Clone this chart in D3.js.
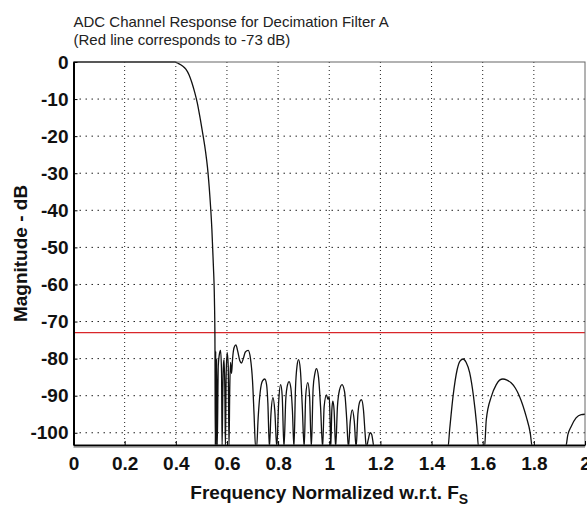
<!DOCTYPE html>
<html>
<head>
<meta charset="utf-8">
<script src="https://cdn.jsdelivr.net/npm/d3@7"></script>
<style>
  html, body { margin: 0; padding: 0; background: #fff; }
  svg { display: block; font-family: "Liberation Sans", Arial, sans-serif; }
  .tick text { font-weight: bold; font-size: 19px; fill: #111; }
</style>
</head>
<body>
<svg id="plot"></svg>
<script>
const width = 587;
const height = 506;
const margin = {top: 62, right: 2, bottom: 61, left: 73.5};

const titleLines = ['ADC Channel Response for Decimation Filter A', '(Red line corresponds to -73 dB)'];
const xTicks = [0, 0.2, 0.4, 0.6, 0.8, 1, 1.2, 1.4, 1.6, 1.8, 2];
const yTicks = [0, -10, -20, -30, -40, -50, -60, -70, -80, -90, -100];
const redLevel = -73;
const yFloor = -103.3;

// frequency (normalized to Fs) and magnitude (dB)
const freq = [
  0, 0.396, 0.41, 0.425, 0.44, 0.452, 0.463, 0.474, 0.484, 0.496, 0.507, 0.516, 0.524, 0.533, 0.541, 0.547, 0.551, 0.553,
  0.5545, 0.556, 0.5575, 0.5595, 0.562, 0.566, 0.570, 0.575, 0.579, 0.581, 0.584, 0.587, 0.589, 0.592, 0.594,
  0.597, 0.601, 0.605, 0.608, 0.611, 0.614, 0.618, 0.622, 0.628, 0.635, 0.642, 0.650, 0.657, 0.664, 0.672,
  0.683, 0.692, 0.700, 0.706, 0.712, 0.716, 0.722, 0.730, 0.739, 0.748, 0.755, 0.760, 0.766,
  0.772, 0.780, 0.787, 0.795,
  0.802, 0.810, 0.816, 0.823,
  0.830, 0.837, 0.843, 0.850, 0.856, 0.862,
  0.868, 0.874, 0.880, 0.887, 0.894, 0.902,
  0.908, 0.916, 0.923, 0.930,
  0.937, 0.944, 0.950, 0.958, 0.966, 0.974,
  0.980, 0.989, 0.995, 1.000, 1.003, 1.006,
  1.010, 1.014, 1.019, 1.025,
  1.032, 1.040, 1.050, 1.060, 1.068, 1.075,
  1.082, 1.090, 1.098, 1.105,
  1.112, 1.120, 1.126, 1.134, 1.140, 1.145,
  1.152, 1.160, 1.166, 1.170, 1.175,
  1.464, 1.471, 1.484, 1.500, 1.512, 1.523, 1.535, 1.549, 1.564, 1.577, 1.584,
  1.607, 1.614, 1.634, 1.653, 1.666, 1.679, 1.695, 1.712, 1.728, 1.744, 1.770, 1.786, 1.794,
  1.924, 1.933, 1.946, 1.965, 1.985, 2.0
];
const magDb = [
  0, 0, -0.4, -1, -2, -3.5, -5.6, -8.2, -11, -15.5, -20, -24, -28.5, -36, -45, -55, -64, -74.4,
  -104, -78, -104, -80, -104, -82, -79, -77.8, -84, -104, -88, -81, -80.3, -90, -104,
  -84, -78.3, -82, -104, -88, -81, -84, -80, -77, -76.3, -78, -80.5, -81.2, -80, -78.2,
  -77.8, -80, -86, -95, -104, -104, -96, -89, -86, -85.5, -87, -92, -104,
  -95, -90.5, -94, -104,
  -92, -87, -90, -104,
  -91, -87, -86.2, -88, -94, -104,
  -88, -82, -80.3, -83, -92, -104,
  -90, -86.5, -90, -104,
  -88, -84, -82.7, -85, -93, -104,
  -93, -89.8, -91, -90.2, -96, -104,
  -94, -91.5, -94, -104,
  -93, -88.5, -87, -89, -96, -104,
  -97, -93.8, -97, -104,
  -95, -91.5, -91.1, -94, -100, -104,
  -102, -100, -100.5, -102, -104,
  -104, -99, -90.2, -83, -80.6, -80.1, -81, -83.8, -90.2, -98.3, -104,
  -104, -96.5, -90.2, -87, -85.8, -85.5, -85.8, -86.6, -88, -90.2, -95.6, -100.1, -104,
  -104, -100.5, -98.3, -96, -95.1, -95
];

function main(){
  let svg = d3.select('svg#plot')
  .attr('width', width)
  .attr('height', height);

  let iw = width - margin.left - margin.right;
  let ih = height - margin.top - margin.bottom;

  let sx = d3.scaleLinear().domain([0, 2]).range([margin.left, margin.left + iw]);
  let sy = d3.scaleLinear().domain([yFloor, 0]).range([margin.top + ih, margin.top]);

  // title
  svg.selectAll('.title')
  .data(titleLines)
  .enter()
  .append('text')
  .attr('class', 'title')
  .attr('x', margin.left)
  .attr('y', (d, i) => 27 + i * 18)
  .attr('font-size', 15)
  .attr('fill', '#222')
  .text(d => d);

  svg.append('clipPath')
  .attr('id', 'clip')
  .append('rect')
  .attr('x', margin.left)
  .attr('y', margin.top - 1)
  .attr('width', iw)
  .attr('height', ih + 1);

  // dotted grid
  svg.append('g')
  .selectAll('line')
  .data(xTicks.slice(1, -1))
  .enter()
  .append('line')
  .attr('x1', d => sx(d)).attr('x2', d => sx(d))
  .attr('y1', margin.top).attr('y2', margin.top + ih)
  .attr('stroke', '#222')
  .attr('stroke-width', 1)
  .attr('stroke-dasharray', '1,3');

  svg.append('g')
  .selectAll('line')
  .data(yTicks.slice(1))
  .enter()
  .append('line')
  .attr('x1', margin.left).attr('x2', margin.left + iw)
  .attr('y1', d => sy(d)).attr('y2', d => sy(d))
  .attr('stroke', '#222')
  .attr('stroke-width', 1)
  .attr('stroke-dasharray', '1.5,4.5');

  // red reference level
  svg.append('line')
  .attr('x1', margin.left).attr('x2', margin.left + iw)
  .attr('y1', sy(redLevel)).attr('y2', sy(redLevel))
  .attr('stroke', '#d9262a')
  .attr('stroke-width', 1.2);

  // response curve
  let pts = d3.zip(freq, magDb);
  let line = d3.line()
  .x(d => sx(d[0]))
  .y(d => sy(d[1]))
  .curve(d3.curveMonotoneX);

  svg.append('path')
  .datum(pts)
  .attr('clip-path', 'url(#clip)')
  .attr('d', line)
  .attr('fill', 'none')
  .attr('stroke', '#111')
  .attr('stroke-width', 1.3);

  // frame
  svg.append('rect')
  .attr('x', margin.left)
  .attr('y', margin.top)
  .attr('width', iw)
  .attr('height', ih)
  .attr('fill', 'none')
  .attr('stroke', '#666')
  .attr('stroke-width', 1);

  svg.append('line')
  .attr('x1', margin.left).attr('x2', margin.left + iw)
  .attr('y1', margin.top + ih + 2).attr('y2', margin.top + ih + 2)
  .attr('stroke', '#999')
  .attr('stroke-width', 1.5);

  // axes
  let ax = d3.axisBottom(sx)
  .tickValues(xTicks)
  .tickFormat(d => String(d))
  .tickSizeInner(-4)
  .tickSizeOuter(0)
  .tickPadding(12);
  let gx = svg.append('g')
  .attr('transform', `translate(0,${margin.top + ih})`)
  .call(ax);
  gx.select('.domain').attr('stroke', '#000').attr('stroke-width', 1.5);

  let ay = d3.axisLeft(sy)
  .tickValues(yTicks)
  .tickFormat(d => String(d))
  .tickSizeInner(-4)
  .tickSizeOuter(0)
  .tickPadding(5);
  let gy = svg.append('g')
  .attr('transform', `translate(${margin.left},0)`)
  .call(ay);
  gy.select('.domain').attr('stroke', '#000').attr('stroke-width', 2);

  // axis titles
  svg.append('text')
  .attr('transform', `translate(27,${margin.top + ih / 2}) rotate(-90)`)
  .attr('text-anchor', 'middle')
  .attr('font-size', 19)
  .attr('font-weight', 'bold')
  .attr('fill', '#111')
  .text('Magnitude - dB');

  let xt = svg.append('text')
  .attr('x', margin.left + iw / 2)
  .attr('y', 499)
  .attr('text-anchor', 'middle')
  .attr('font-size', 19)
  .attr('font-weight', 'bold')
  .attr('fill', '#111');
  xt.append('tspan').text('Frequency Normalized w.r.t. F');
  xt.append('tspan').attr('dy', 5).attr('font-size', 14).text('S');
}

document.addEventListener('DOMContentLoaded', main);
</script>
</body>
</html>
